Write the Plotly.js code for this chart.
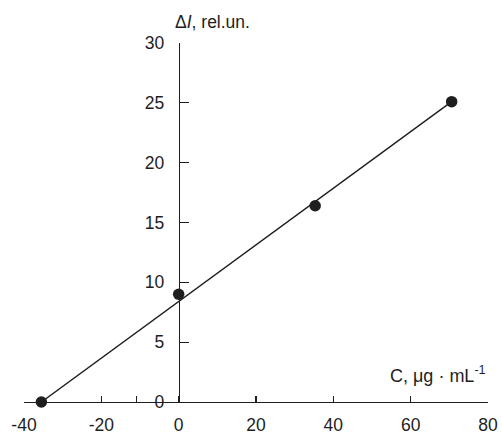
<!DOCTYPE html>
<html>
<head>
<meta charset="utf-8">
<script src="https://cdn.plot.ly/plotly-3.0.1.min.js"></script>
<style>html,body{margin:0;padding:0;background:#fff;}#chart{width:502px;height:434px;}</style>
</head>
<body>
<div id="chart"></div>
<script>
// Data
const concX = [-35.5, 0, 35.3, 70.6];
const signalY = [0, 9.0, 16.4, 25.1];
const fitX = [-35.5, 70.6];
const fitY = [0, 25.1];
const xTickVals = [-40, -20, -11, 0, 20, 40, 60, 80];
const xTickText = ['-40', '-20', '', '0', '20', '40', '60', '80'];
const yTickVals = [0, 5, 10, 15, 20, 25, 30];
const yTickText = ['0', '5', '10', '15', '20', '25', '30'];
const yTitle = 'Δ<i>I</i>, rel.un.';
const xTitle = 'C, μg · mL<sup>-1</sup>';

const ink = '#1e1e1e';
const font = {family: 'Liberation Sans, Arial, sans-serif', size: 17.5, color: ink};

const traces = [
  {x: fitX, y: fitY, mode: 'lines', line: {color: ink, width: 1.4}, hoverinfo: 'skip', cliponaxis: false},
  {x: concX, y: signalY, mode: 'markers', marker: {color: ink, size: 11.5}, cliponaxis: false}
];

const layout = {
  width: 502, height: 434,
  margin: {l: 24, r: 14, t: 43, b: 32},
  paper_bgcolor: '#fff', plot_bgcolor: 'rgba(0,0,0,0)',
  showlegend: false,
  font: font,
  xaxis: {
    range: [-40, 80], domain: [0, 1],
    tickmode: 'array', tickvals: xTickVals, ticktext: xTickText,
    ticks: 'inside', ticklen: 6, tickwidth: 1.2, tickcolor: ink,
    showline: true, linecolor: ink, linewidth: 1.2,
    showgrid: false, zeroline: false,
    ticklabelstandoff: 7,
    tickfont: font
  },
  yaxis: {
    range: [0, 30],
    anchor: 'free', position: 1/3,
    tickmode: 'array', tickvals: yTickVals, ticktext: yTickText,
    ticks: 'inside', ticklen: 9, tickwidth: 1.2, tickcolor: ink,
    showline: true, linecolor: ink, linewidth: 1.2,
    showgrid: false, zeroline: false,
    ticklabelstandoff: 11,
    tickfont: font
  },
  annotations: [
    {text: yTitle, xref: 'paper', yref: 'paper', x: 0.407, y: 1, xanchor: 'center', yanchor: 'bottom', yshift: 9,
     showarrow: false, font: {family: font.family, size: 17.5, color: ink}},
    {text: xTitle, xref: 'paper', yref: 'y', x: 1, y: 2.3, xanchor: 'right', yanchor: 'middle',
     showarrow: false, font: {family: font.family, size: 18, color: ink}}
  ]
};

Plotly.newPlot('chart', traces, layout, {staticPlot: true, displayModeBar: false});
</script>
</body>
</html>
